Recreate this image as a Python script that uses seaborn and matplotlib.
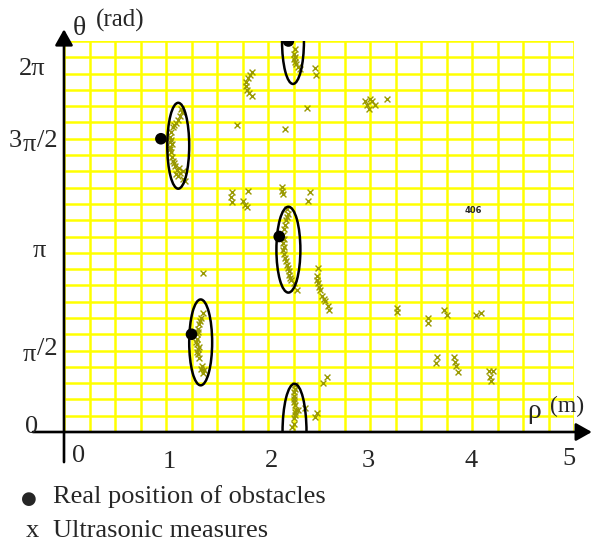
import numpy as np
import matplotlib
matplotlib.use("Agg")
import matplotlib.pyplot as plt
from matplotlib.patches import Ellipse
import seaborn as sns

# ------------------ Data ------------------
# real position of the obstacles (rho in m, theta in rad)
obst_rho = [0.95, 1.25, 2.11, 2.20]
obst_theta = [3 * np.pi / 2, np.pi / 2, np.pi, 2 * np.pi]

meas_rho = [
    1.16, 1.14, 1.12, 1.10, 1.07, 1.05, 1.04, 1.04, 1.04, 1.05, 1.06, 1.07, 1.09, 1.11,
    1.14, 1.17, 1.12, 1.17, 1.19, 1.15, 1.08, 1.05, 1.06, 1.04, 1.08, 1.13, 1.10,   # obstacle 1
    1.36, 1.34, 1.32, 1.31, 1.30, 1.30, 1.30, 1.31, 1.31, 1.32, 1.35, 1.37, 1.36,
    1.33, 1.31, 1.29, 1.32, 1.30, 1.34,                                              # obstacle 2
    2.19, 2.20, 2.18, 2.16, 2.15, 2.15, 2.15, 2.17, 2.19, 2.21, 2.22, 2.25, 2.28,
    2.19, 2.17, 2.16, 2.16, 2.16, 2.18, 2.20, 2.21, 2.23,                            # obstacle 3
    2.14, 2.15, 2.14, 1.65, 1.65, 1.64, 1.80, 1.75, 1.79, 1.77, 2.41, 2.39,
    2.49, 2.48, 2.49, 2.51, 2.53, 2.56, 2.59, 2.60, 2.48, 2.50, 2.55,
    2.26, 2.25, 2.25, 2.27, 2.29, 2.31, 2.26, 2.26,                                  # obstacle 4 (top)
    2.46, 2.47, 2.38, 2.17, 1.70, 1.36,
    1.84, 1.82, 1.80, 1.78, 1.78, 1.79, 1.81, 1.84,
    2.26, 2.25, 2.25, 2.26, 2.26, 2.25, 2.25, 2.27, 2.29, 2.36,
    2.26, 2.25, 2.25, 2.26, 2.24,                                                    # bottom ellipse
    2.48, 2.46, 2.54, 2.58,
    2.95, 2.97, 2.99, 3.02, 3.05, 3.00, 3.17,
    3.26, 3.26, 3.57, 3.57, 3.73, 3.75, 4.04, 4.09,
    3.66, 3.65, 3.82, 3.83, 3.84, 3.86,
    4.17, 4.21, 4.18, 4.19,
]
meas_theta = [
    5.14, 5.08, 5.02, 4.97, 4.90, 4.82, 4.74, 4.66, 4.58, 4.50, 4.42, 4.36, 4.28, 4.21,
    4.17, 4.20, 4.12, 4.07, 4.04, 5.19, 4.93, 4.70, 4.62, 4.54, 4.32, 4.24, 4.15,
    1.92, 1.83, 1.73, 1.65, 1.57, 1.49, 1.41, 1.33, 1.25, 1.19, 1.06, 0.99, 0.95,
    1.78, 1.61, 1.45, 1.37, 1.29, 1.02,
    3.59, 3.51, 3.40, 3.27, 3.16, 3.04, 2.92, 2.80, 2.69, 2.58, 2.48, 2.40, 2.28,
    3.46, 3.33, 3.10, 2.98, 2.86, 2.75, 2.63, 2.52, 2.44,
    3.93, 3.83, 3.88, 3.85, 3.69, 3.77, 3.88, 3.72, 3.61, 3.64, 3.85, 3.72,
    2.63, 2.50, 2.39, 2.28, 2.18, 2.10, 2.02, 1.96, 2.44, 2.33, 2.14,
    6.15, 6.07, 5.99, 5.91, 5.87, 5.83, 6.03, 5.95,
    5.85, 5.74, 5.21, 4.87, 4.94, 2.55,
    5.79, 5.74, 5.69, 5.62, 5.56, 5.50, 5.45, 5.40,
    0.75, 0.64, 0.53, 0.43, 0.32, 0.22, 0.13, 0.35, 0.35, 0.38,
    0.69, 0.58, 0.48, 0.27, 0.08,
    0.30, 0.24, 0.79, 0.88,
    5.32, 5.26, 5.19, 5.32, 5.26, 5.35, 5.35,
    1.99, 1.93, 1.83, 1.75, 1.96, 1.88, 1.88, 1.92,
    1.20, 1.11, 1.20, 1.12, 1.06, 0.96,
    0.98, 0.98, 0.88, 0.82,
]

# ellipses drawn around the measure clusters
ell_rho = [1.12, 1.34, 2.20, 2.245, 2.26]
ell_theta = [4.60, 1.44, 2.93, 2 * np.pi, 0.0]
ell_w = [0.215, 0.225, 0.235, 0.215, 0.235]
ell_h = [1.38, 1.38, 1.38, 1.38, 1.55]

# ------------------ Style ------------------
sns.set_theme(style="white")
plt.rcParams['font.family'] = ['Liberation Serif', 'DejaVu Sans']

W, H = 591, 545


def px(x, y):
    # pixel position -> figure fraction
    return x / W, 1 - y / H


fig = plt.figure(figsize=(W / 100, H / 100), dpi=100)
ax = fig.add_axes([64 / W, (H - 432) / H, 510 / W, 391 / H])

# ------------------ Marks ------------------
sns.scatterplot(x=meas_rho, y=meas_theta, marker='x', color='#999900',
                s=18, linewidth=1.0, ax=ax, zorder=3)
sns.scatterplot(x=obst_rho, y=obst_theta, color='black', s=70,
                edgecolor='none', ax=ax, zorder=5)

for r, t, w, h in zip(ell_rho, ell_theta, ell_w, ell_h):
    ax.add_patch(Ellipse((r, t), w, h, fill=False, ec='black', lw=1.8, zorder=4))

# ------------------ Axes / grid ------------------
ax.set_xlim(0, 5)
ax.set_ylim(0, 2 * np.pi)
ax.set_xlabel('')
ax.set_ylabel('')

ax.set_xticks([1, 2, 3, 4, 5])
ax.set_yticks([np.pi / 2, np.pi, 3 * np.pi / 2])
ax.set_xticks(np.arange(0, 5.01, 0.25), minor=True)
ax.set_yticks(np.arange(0, 2 * np.pi + 0.01, np.pi / 12), minor=True)
ax.set_axisbelow(True)
ax.grid(which='both', color='#ffff00', lw=1.8)
ax.tick_params(which='minor', length=0)
ax.tick_params(axis='x', which='major', direction='inout', length=11.5, width=1.5,
               color='black', labelbottom=False)
ax.tick_params(axis='y', which='major', direction='inout', length=14, width=1.5,
               color='black', labelleft=False)
sns.despine(ax=ax, left=True, bottom=True)

arrow = dict(arrowstyle='-|>,head_width=0.45,head_length=0.8', color='black',
             lw=1.9, shrinkA=0, shrinkB=0, mutation_scale=12)
ax.annotate('', xy=(0, 1.03), xytext=(0, -0.077), xycoords='axes fraction',
            arrowprops=arrow, annotation_clip=False)
ax.annotate('', xy=(1.035, 0), xytext=(-0.061, 0), xycoords='axes fraction',
            arrowprops=arrow, annotation_clip=False)

# ------------------ Labels ------------------
fs = 19
fig.text(*px(73, 35), 'θ', fontsize=20, va='baseline')
fig.text(*px(96, 27), '(rad)', fontsize=18, va='baseline')
fig.text(*px(527, 418), 'ρ', fontsize=20, va='baseline')
fig.text(*px(550, 412), '(m)', fontsize=17, va='baseline')

# theta tick labels
fig.text(*px(46, 75), '2π', fontsize=fs, ha='right', va='baseline')
fig.text(*px(9, 147), '3', fontsize=fs, va='baseline')
fig.text(*px(23, 151), 'π', fontsize=fs, va='baseline')
fig.text(*px(37, 147), '/2', fontsize=fs, va='baseline')
fig.text(*px(33, 257), 'π', fontsize=fs, va='baseline')
fig.text(*px(23, 361), 'π', fontsize=fs, va='baseline')
fig.text(*px(37, 355), '/2', fontsize=fs, va='baseline')
fig.text(*px(25, 433), '0', fontsize=fs, va='baseline')

# rho tick labels
fig.text(*px(72, 462), '0', fontsize=fs, va='baseline')
for lab, x, y in zip(['1', '2', '3', '4', '5'],
                     [169, 271, 368, 471, 569], [468, 467, 467, 467, 465]):
    fig.text(*px(x, y), lab, fontsize=fs, ha='center', va='baseline')

fig.text(*px(473, 213), '406', fontsize=6, fontweight='bold', ha='center',
         va='baseline', family='DejaVu Sans')

# legend under the plot
fig.text(*px(21, 504), '●', family='DejaVu Sans', fontsize=13, va='baseline')
fig.text(*px(53, 503), 'Real position of obstacles', fontsize=fs, va='baseline')
fig.text(*px(26, 537), 'x', fontsize=fs, va='baseline')
fig.text(*px(53, 537), 'Ultrasonic measures', fontsize=fs, va='baseline')

fig.savefig('out.png', dpi=100)
